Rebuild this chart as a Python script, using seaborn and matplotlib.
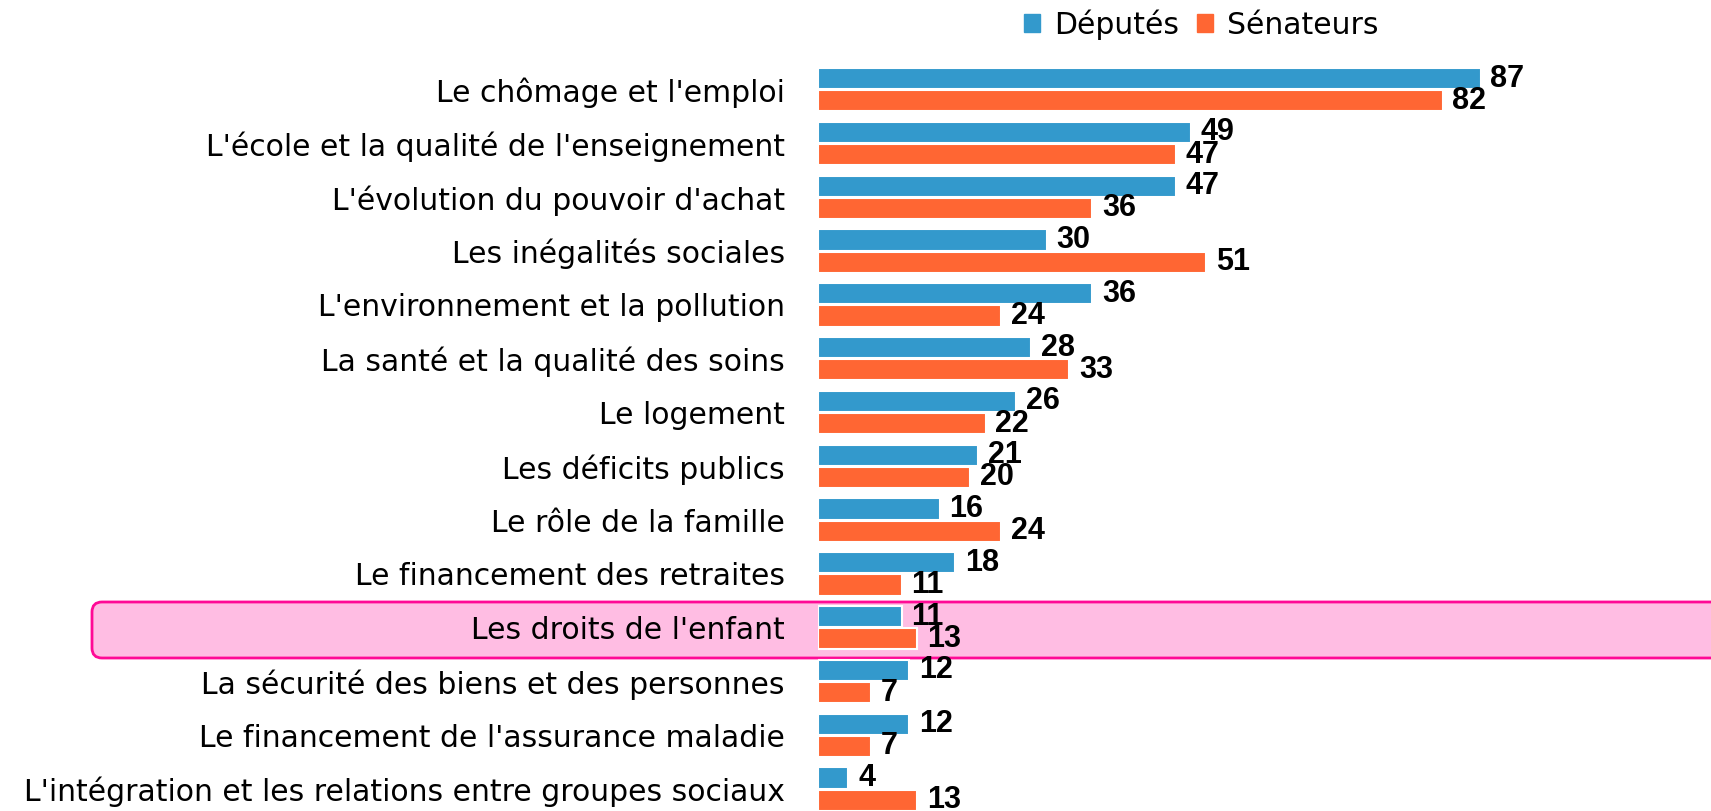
import matplotlib
matplotlib.use("Agg")
import matplotlib.pyplot as plt
from matplotlib.patches import FancyBboxPatch
from matplotlib.transforms import IdentityTransform
import pandas as pd
import seaborn as sns

# data
themes = ["Le chômage et l'emploi",
          "L'école et la qualité de l'enseignement",
          "L'évolution du pouvoir d'achat",
          "Les inégalités sociales",
          "L'environnement et la pollution",
          "La santé et la qualité des soins",
          "Le logement",
          "Les déficits publics",
          "Le rôle de la famille",
          "Le financement des retraites",
          "Les droits de l'enfant",
          "La sécurité des biens et des personnes",
          "Le financement de l'assurance maladie",
          "L'intégration et les relations entre groupes sociaux"]
deputes = [87, 49, 47, 30, 36, 28, 26, 21, 16, 18, 11, 12, 12, 4]
senateurs = [82, 47, 36, 51, 24, 33, 22, 20, 24, 11, 13, 7, 7, 13]
groups = ["Députés", "Sénateurs"]
colors = ["#3399cc", "#ff6633"]

df = pd.DataFrame({
    "theme": themes * 2,
    "valeur": deputes + senateurs,
    "groupe": [groups[0]] * len(themes) + [groups[1]] * len(themes),
})

sns.set_style("white")
plt.rcParams["font.family"] = ["DejaVu Sans"]
plt.rcParams["text.color"] = "black"
plt.rcParams["ytick.color"] = "black"

W, H, dpi = 1711, 811, 100
fig = plt.figure(figsize=(W / dpi, H / dpi), dpi=dpi)
ax = fig.add_axes([818 / W, 0, 1 - 818 / W, 1])
ax.patch.set_alpha(0)

# highlighted row box (pixel coords)
box = FancyBboxPatch((92, H - 658), W, 56,
                     boxstyle="round,pad=0,rounding_size=10",
                     transform=IdentityTransform(), clip_on=False,
                     facecolor="#ffbde3", edgecolor="#ff0a96", lw=2, zorder=0.5)
ax.add_patch(box)

sns.barplot(data=df, y="theme", x="valeur", hue="groupe", orient="h",
            palette=colors, saturation=1, width=0.82, gap=0.04,
            edgecolor="white", linewidth=1.5, ax=ax, legend=False, zorder=2)

for cont in ax.containers:
    ax.bar_label(cont, padding=7, fontsize=22, fontweight="bold",
                 family="Liberation Sans", color="black")

ax.set_xlim(0, (W - 818) / 7.617)
ax.set_ylim((H - 89.7) / 53.8, -89.7 / 53.8)
ax.set_xlabel("")
ax.set_ylabel("")
ax.set_xticks([])
ax.tick_params(axis="y", length=0, pad=24, labelsize=21.5, labelcolor="black")
sns.despine(ax=ax, left=True, bottom=True)

handles = [plt.Rectangle((0, 0), 1, 1, color=c) for c in colors]
fig.legend(handles, groups, loc="center", bbox_to_anchor=(0.702, 0.970),
           ncol=2, frameon=False, fontsize=21.5, handlelength=0.55,
           handleheight=0.55, handletextpad=0.45, columnspacing=0.6)

fig.savefig("out.png", dpi=dpi)
